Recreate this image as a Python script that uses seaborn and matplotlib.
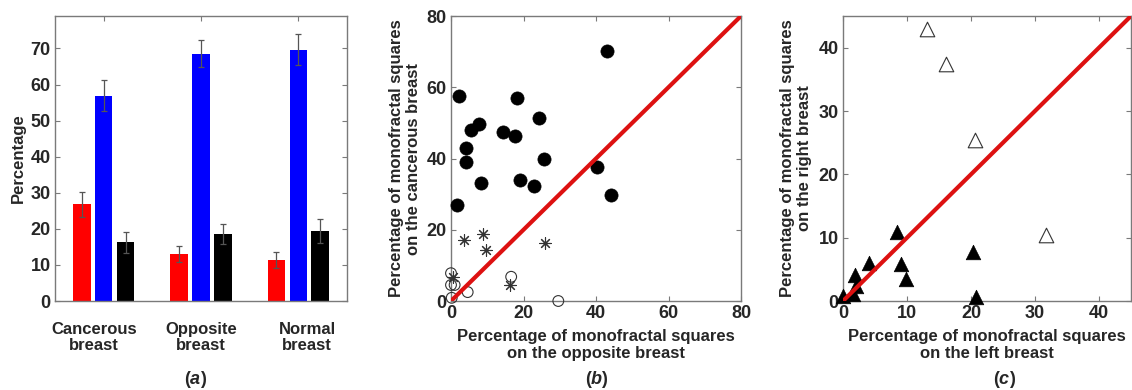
import numpy as np
import pandas as pd
import matplotlib
matplotlib.use("Agg")
import matplotlib.pyplot as plt
import seaborn as sns

# ---- data -------------------------------------------------------------
groups = ["Cancerous\nbreast", "Opposite\nbreast", "Normal\nbreast"]
series = ["s1", "s2", "s3"]
bar_red = [26.8, 13.1, 11.3]
bar_blue = [56.9, 68.6, 69.6]
bar_black = [16.3, 18.5, 19.4]
err_red = [3.5, 2.2, 2.2]
err_blue = [4.3, 3.8, 4.3]
err_black = [2.9, 2.8, 3.4]

# panel (b): opposite breast (x) vs cancerous breast (y)
b_filled_x = [42.9, 2.1, 18.1, 24.2, 7.8, 5.4, 14.4, 17.7, 4.2, 4.2, 25.7, 40.2, 44.1, 8.3, 19.1, 23.0, 1.6]
b_filled_y = [70.3, 57.6, 57.1, 51.3, 49.7, 48.0, 47.3, 46.3, 42.9, 38.9, 40.0, 37.7, 29.8, 33.1, 34.1, 32.4, 27.0]
b_star_x = [3.7, 8.9, 9.6, 25.9, 0.6, 16.3]
b_star_y = [17.0, 18.9, 14.2, 16.3, 6.6, 4.4]
b_open_x = [0.0, 0.0, 1.0, 0.2, 4.6, 16.6, 29.6]
b_open_y = [7.8, 4.5, 4.5, 0.9, 2.5, 6.8, 0.0]

# panel (c): left breast (x) vs right breast (y)
c_open_x = [13.1, 16.1, 20.7, 31.7]
c_open_y = [42.9, 37.4, 25.4, 10.4]
c_filled_x = [8.4, 20.3, 4.0, 9.0, 9.8, 1.8, 2.1, 1.5, 0.0, 20.8]
c_filled_y = [10.9, 7.7, 6.0, 5.8, 3.5, 4.1, 2.4, 1.1, 0.8, 0.7]

# ---- style ------------------------------------------------------------
sns.set_theme(style="white")
plt.rcParams["font.family"] = ["Liberation Sans", "DejaVu Sans"]
plt.rcParams["mathtext.fontset"] = "custom"
plt.rcParams["mathtext.it"] = "Liberation Sans:italic:bold"
plt.rcParams["mathtext.rm"] = "Liberation Sans:bold"

FS = 12
TICK_FS = 13
SPINE = "#7a7a7a"
LINE_RED = "#dd1111"

fig = plt.figure(figsize=(11.32, 3.90), dpi=100)
W, H = 1132.0, 390.0


def add_axes(left, right, top=16, bottom=301):
    return fig.add_axes([left / W, 1 - bottom / H, (right - left) / W, (bottom - top) / H])


def style_axes(ax):
    for sp in ax.spines.values():
        sp.set_visible(True)
        sp.set_color(SPINE)
        sp.set_linewidth(1.0)
    ax.tick_params(direction="in", length=3.5, width=0.8, color=SPINE,
                   top=True, right=True, bottom=True, left=True,
                   labelsize=TICK_FS, pad=3)
    for lab in ax.get_xticklabels() + ax.get_yticklabels():
        lab.set_fontweight("bold")


# ---- (a) bar chart ----------------------------------------------------
ax_a = add_axes(55, 347)
bars = pd.DataFrame({
    "group": np.repeat(groups, 3),
    "series": series * 3,
    "value": [v for trio in zip(bar_red, bar_blue, bar_black) for v in trio],
    "err": [e for trio in zip(err_red, err_blue, err_black) for e in trio],
})
sns.barplot(data=bars, x="group", y="value", hue="series", order=groups,
            hue_order=series, palette=["#ff0000", "#0000ff", "#000000"],
            width=0.675, gap=0.2, errorbar=None, saturation=1,
            edgecolor="none", legend=False, ax=ax_a)
for cont, s in zip(ax_a.containers, series):
    sub = bars[bars["series"] == s].set_index("group").loc[groups]
    xs = [p.get_x() + p.get_width() / 2 for p in cont.patches]
    ax_a.errorbar(xs, sub["value"], yerr=sub["err"], fmt="none",
                  ecolor="#555555", elinewidth=0.9, capsize=2.5, capthick=0.9)
ax_a.set_xlim(-0.5, 2.5)
ax_a.set_ylim(0, 79)
ax_a.set_yticks(range(0, 71, 10))
ax_a.set_xticks(range(3))
ax_a.set_xticklabels([])
ax_a.set_xlabel("")
ax_a.set_ylabel("Percentage", fontsize=FS, fontweight="bold")
ax_a.yaxis.set_label_coords(-0.1, 0.5)
style_axes(ax_a)
label_shift = [-0.1, 0.0, 0.09]
for i, (g, d) in enumerate(zip(groups, label_shift)):
    ax_a.text(i + d, -0.072, g, transform=ax_a.get_xaxis_transform(),
              ha="center", va="top", fontsize=FS, fontweight="bold",
              linespacing=1.15)

# ---- (b) scatter ------------------------------------------------------
ax_b = add_axes(451, 741)
sns.scatterplot(x=b_filled_x, y=b_filled_y, marker="o", s=90, color="black",
                edgecolor="black", linewidth=0.5, ax=ax_b, clip_on=False, zorder=3)
sns.scatterplot(x=b_star_x, y=b_star_y, marker=(8, 2, 0), s=70, color="#333333",
                linewidth=0.8, ax=ax_b, clip_on=False, zorder=3)
sns.scatterplot(x=b_open_x, y=b_open_y, marker="o", s=60, facecolor="none",
                edgecolor="#333333", linewidth=0.8, ax=ax_b, clip_on=False, zorder=3)
lim_b = (0, 80)
ax_b.plot(lim_b, lim_b, color=LINE_RED, lw=3, zorder=4, solid_capstyle="butt")
ax_b.set_xlim(*lim_b)
ax_b.set_ylim(*lim_b)
ax_b.set_xticks(range(0, 81, 20))
ax_b.set_yticks(range(0, 81, 20))
ax_b.set_xlabel("Percentage of monofractal squares\non the opposite breast",
                fontsize=FS, fontweight="bold", labelpad=5, linespacing=1.15)
ax_b.set_ylabel("Percentage of monofractal squares\non the cancerous breast",
                fontsize=FS, fontweight="bold", linespacing=1.15)
ax_b.yaxis.set_label_coords(-0.105, 0.5)
style_axes(ax_b)

# ---- (c) scatter ------------------------------------------------------
ax_c = add_axes(843, 1131)
sns.scatterplot(x=c_filled_x, y=c_filled_y, marker="^", s=110, color="black",
                edgecolor="black", linewidth=0.5, ax=ax_c, clip_on=False, zorder=3)
sns.scatterplot(x=c_open_x, y=c_open_y, marker="^", s=110, facecolor="white",
                edgecolor="#333333", linewidth=0.8, ax=ax_c, clip_on=False, zorder=3)
lim_c = (0, 45)
ax_c.plot(lim_c, lim_c, color=LINE_RED, lw=3, zorder=4, solid_capstyle="butt")
ax_c.set_xlim(*lim_c)
ax_c.set_ylim(*lim_c)
ax_c.set_xticks(range(0, 41, 10))
ax_c.set_yticks(range(0, 41, 10))
ax_c.set_xlabel("Percentage of monofractal squares\non the left breast",
                fontsize=FS, fontweight="bold", labelpad=5, linespacing=1.15)
ax_c.set_ylabel("Percentage of monofractal squares\non the right breast",
                fontsize=FS, fontweight="bold", linespacing=1.15)
ax_c.yaxis.set_label_coords(-0.107, 0.5)
style_axes(ax_c)

# ---- panel letters ----------------------------------------------------
for letter, xc in [("a", 196), ("b", 597), ("c", 1005)]:
    fig.text(xc / W, 1 - 379 / H, r"($\it{%s}$)" % letter, ha="center",
             va="center", fontsize=13, fontweight="bold")

fig.savefig("out.png", dpi=100)
